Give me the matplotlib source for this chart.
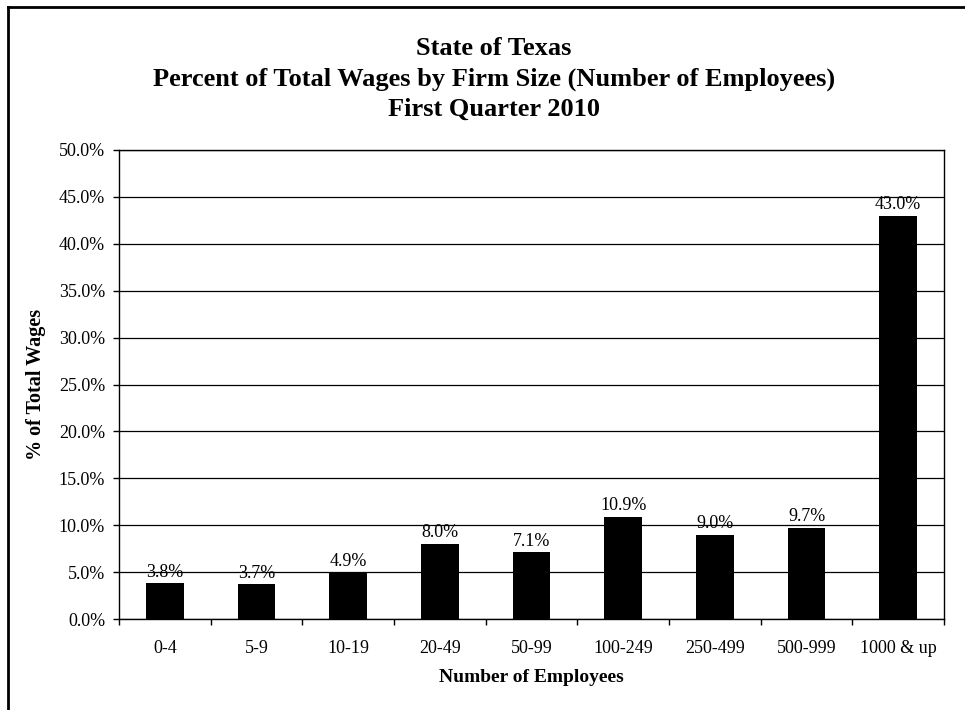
import matplotlib
matplotlib.use("Agg")
import matplotlib.pyplot as plt
from matplotlib.lines import Line2D
from matplotlib.ticker import FuncFormatter, MultipleLocator
import numpy as np

categories = ["0-4", "5-9", "10-19", "20-49", "50-99", "100-249", "250-499", "500-999", "1000 & up"]
values = [3.8, 3.7, 4.9, 8.0, 7.1, 10.9, 9.0, 9.7, 43.0]
title_lines = ["State of Texas",
               "Percent of Total Wages by Firm Size (Number of Employees)",
               "First Quarter 2010"]
xlabel = "Number of Employees"
ylabel = "% of Total Wages"

plt.rcParams['font.family'] = ['Liberation Serif', 'DejaVu Serif']

W, H = 965, 710
fig = plt.figure(figsize=(W / 100, H / 100), dpi=100)
fig.patch.set_facecolor("white")

ax = fig.add_axes([119 / W, 1 - 619 / H, (944 - 119) / W, (619 - 150) / H])

x = np.arange(len(categories))
ax.bar(x, values, width=0.41, color="black", zorder=3)

ax.set_xlim(-0.5, len(categories) - 0.5)
ax.set_ylim(0, 50)
ax.yaxis.set_major_locator(MultipleLocator(5))
ax.yaxis.set_major_formatter(FuncFormatter(lambda v, p: f"{v:.1f}%"))
ax.grid(axis="y", color="black", linewidth=0.9, zorder=1)

ax.set_xticks(x)
ax.set_xticklabels(categories)
ax.set_xticks(np.arange(-0.5, len(categories), 1), minor=True)
ax.tick_params(axis="x", which="major", length=0, pad=15, labelsize=13)
ax.tick_params(axis="x", which="minor", length=4, width=1, direction="out", color="black")
ax.tick_params(axis="y", which="major", length=4, width=1, direction="out", labelsize=13, pad=6)

for s in ax.spines.values():
    s.set_color("black")
    s.set_linewidth(1.0)

for xi, v in zip(x, values):
    ax.annotate(f"{v:.1f}%", (xi, v), xytext=(0, 2), textcoords="offset points",
                ha="center", va="bottom", fontsize=13, zorder=4)

ax.set_xlabel(xlabel, fontsize=14, fontweight="bold", labelpad=9)
ax.set_ylabel(ylabel, fontsize=14.5, fontweight="bold", labelpad=9)

baselines = [55, 86, 116]
for t, yy in zip(title_lines, baselines):
    fig.text(494 / W, 1 - yy / H, t, ha="center", va="baseline", fontsize=19, fontweight="bold")

# outer frame (left and top edges visible)
fig.add_artist(Line2D([8 / W, 8 / W], [0, 1 - 7 / H], color="black", linewidth=2, transform=fig.transFigure))
fig.add_artist(Line2D([8 / W, 1], [1 - 7 / H, 1 - 7 / H], color="black", linewidth=2, transform=fig.transFigure))

fig.savefig("out.png", dpi=100, facecolor="white")
